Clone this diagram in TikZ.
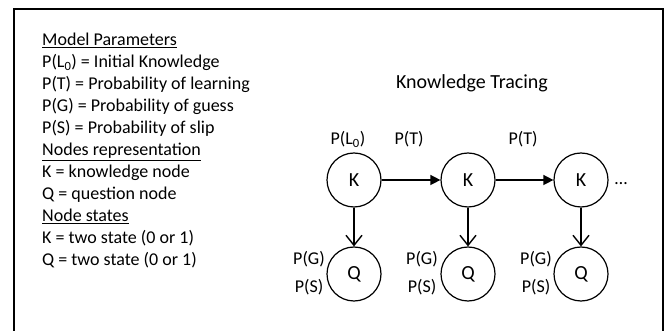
\documentclass[tikz,border=0pt]{standalone}
\usepackage{fontspec}
\setmainfont{Carlito}
\usetikzlibrary{arrows.meta}
\begin{document}
\begin{tikzpicture}[x=1pt,y=-1pt,
  txt/.style={anchor=base west, inner sep=0pt, font=\fontsize{18}{22}\selectfont},
  ttl/.style={anchor=base, inner sep=0pt, font=\fontsize{20}{24}\selectfont},
  kq/.style={circle, draw, line width=1.2pt, minimum size=54pt, inner sep=0pt, font=\fontsize{20}{24}\selectfont},
  lbl/.style={anchor=base, inner sep=0pt, font=\fontsize{18}{22}\selectfont},
  harr/.style={line width=1.4pt, -{Triangle[length=10pt,width=10pt]}},
  varr/.style={line width=1.4pt, -{Straight Barb[length=10pt,width=16pt]}},
  frameline/.style={line width=1.8pt}]
\useasboundingbox (0,0) rectangle (667,331);
\draw[frameline] (14,331) -- (14,9) -- (663,9) -- (663,331);
% left legend
\node[txt] (t0) at (42,45.5) {\underline{Model Parameters}};
\node[txt] (t1) at (42,67.5) {P(L\textsubscript{0}) = Initial Knowledge};
\node[txt] (t2) at (42,89.5) {P(T) = Probability of learning};
\node[txt] (t3) at (42,111.5) {P(G) = Probability of guess};
\node[txt] (t4) at (42,133.5) {P(S) = Probability of slip};
\node[txt] (t5) at (42,155.5) {\underline{Nodes representation}};
\node[txt] (t6) at (42,177.5) {K = knowledge node};
\node[txt] (t7) at (42,199.5) {Q = question node};
\node[txt] (t8) at (42,221.5) {\underline{Node states}};
\node[txt] (t9) at (42,243.5) {K = two state (0 or 1)};
\node[txt] (t10) at (42,265.5) {Q = two state (0 or 1)};
% title
\node[ttl] (title) at (472,89) {Knowledge Tracing};
% nodes
\node[kq] (k1) at (354,180) {K};
\node[kq] (k2) at (468,180) {K};
\node[kq] (k3) at (581,180) {K};
\node[kq] (q1) at (354,274) {Q};
\node[kq] (q2) at (468,274) {Q};
\node[kq] (q3) at (581,274) {Q};
% arrows
\draw[harr] (k1) -- (k2);
\draw[harr] (k2) -- (k3);
\draw[varr] (k1) -- (q1);
\draw[varr] (k2) -- (q2);
\draw[varr] (k3) -- (q3);
% labels
\node[lbl] (l0) at (348,145) {P(L\textsubscript{0})};
\node[lbl] (pt1) at (409,145) {P(T)};
\node[lbl] (pt2) at (523,145) {P(T)};
\node[lbl] (dots) at (621,185) {…};
\node[lbl] (g1) at (309,265) {P(G)};
\node[lbl] (s1) at (309,292) {P(S)};
\node[lbl] (g2) at (422,265) {P(G)};
\node[lbl] (s2) at (422,292) {P(S)};
\node[lbl] (g3) at (536,265) {P(G)};
\node[lbl] (s3) at (536,292) {P(S)};
\end{tikzpicture}
\end{document}
